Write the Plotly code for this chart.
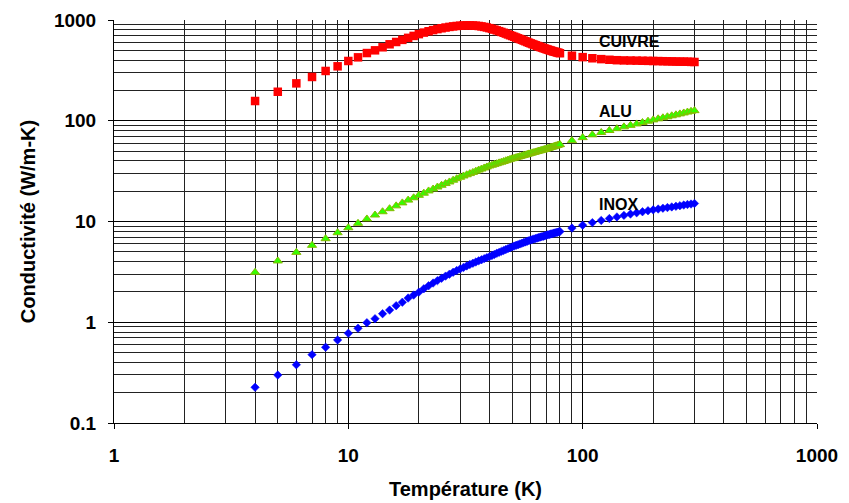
import math
import plotly.graph_objects as go

# Temperature (K)
temperature = [4, 5, 6, 7, 8, 9, 10, 11, 12, 13, 14, 15, 16, 17, 18, 19, 20,
               21, 22, 23, 24, 25, 26, 27, 28, 29, 30, 31, 32, 33, 34, 35, 36, 37, 38, 39, 40,
               41, 42, 43, 44, 45, 46, 47, 48, 49, 50, 51, 52, 53, 54, 55, 56, 57, 58, 59, 60,
               61, 62, 63, 64, 65, 66, 67, 68, 69, 70, 71, 72, 73, 74, 75, 76, 77, 78, 79, 80,
               90, 100, 110, 120, 130, 140, 150, 160, 170, 180, 190, 200,
               210, 220, 230, 240, 250, 260, 270, 280, 290, 300]

# Conductivity (W/m-K)
cuivre = [157, 194, 235, 272, 312, 347, 392, 426, 470, 500, 536, 574, 605, 635, 665, 695, 724,
          750, 773, 794, 812, 828, 842, 854, 864, 872, 878, 882, 884, 884, 882, 878, 872, 864, 854, 843, 830,
          817, 803, 789, 775, 761, 747, 733, 719, 706, 694, 682, 670, 658, 647, 636, 625, 615, 605, 595, 586,
          577, 569, 561, 553, 546, 539, 532, 526, 520, 514, 508, 503, 498, 493, 488, 484, 480, 476, 472, 468,
          442, 428, 417, 409, 403, 399, 397, 396, 395, 394, 393, 392,
          391, 390, 389, 388, 387, 386, 386, 385, 384, 383]

alu = [3.13, 4.06, 4.94, 5.80, 6.75, 7.74, 8.67, 9.59, 10.6, 11.6, 12.5, 13.4, 14.3, 15.3, 16.3, 17.2, 18.2,
       19.1, 20.1, 21.0, 22.0, 22.9, 23.8, 24.7, 25.7, 26.6, 27.5, 28.3, 29.1, 29.9, 30.7, 31.6, 32.4, 33.2, 34.0, 34.8, 35.6,
       36.2, 36.9, 37.5, 38.2, 38.8, 39.4, 40.1, 40.7, 41.4, 42.0, 42.5, 43.1, 43.6, 44.2, 44.7, 45.3, 45.8, 46.4, 46.9, 47.5,
       48.0, 48.5, 49.0, 49.5, 50.0, 50.5, 51.0, 51.5, 52.0, 52.5, 53.1, 53.6, 54.2, 54.7, 55.3, 55.8, 56.4, 56.9, 57.5, 58.0,
       63.5, 68, 72.5, 76.5, 80, 83.5, 87, 90, 93, 96, 99, 102,
       104.5, 107, 109.5, 112, 114.5, 117, 119.5, 122, 124, 126]

inox = [0.226, 0.299, 0.379, 0.477, 0.564, 0.667, 0.777, 0.871, 0.99, 1.085, 1.216, 1.32, 1.46, 1.58, 1.74, 1.86, 1.99,
        2.15, 2.30, 2.45, 2.59, 2.73, 2.87, 3.00, 3.13, 3.26, 3.38, 3.50, 3.62, 3.74, 3.85, 3.96, 4.07, 4.17, 4.28, 4.38, 4.48,
        4.60, 4.71, 4.83, 4.94, 5.05, 5.16, 5.27, 5.38, 5.49, 5.60, 5.70, 5.80, 5.89, 5.99, 6.08, 6.18, 6.27, 6.37, 6.46, 6.55,
        6.63, 6.71, 6.78, 6.86, 6.93, 7.01, 7.08, 7.15, 7.22, 7.30, 7.37, 7.43, 7.50, 7.56, 7.63, 7.69, 7.76, 7.82, 7.89, 7.95,
        8.6, 9.2, 9.75, 10.25, 10.7, 11.1, 11.5, 11.85, 12.2, 12.5, 12.8, 13.05,
        13.3, 13.55, 13.75, 13.95, 14.15, 14.35, 14.55, 14.75, 14.9, 15.1]

labels = ["CUIVRE", "ALU", "INOX"]
label_T = [115, 115, 115]
label_k = [612, 123, 14.6]

x_major = [1, 10, 100, 1000]
x_major_text = ["1", "10", "100", "1000"]
y_major = [0.1, 1, 10, 100, 1000]
y_major_text = ["0.1", "1", "10", "100", "1000"]

x_minor = [m * d for d in (1, 10, 100) for m in range(2, 10)]
y_minor = [m * d for d in (0.1, 1, 10, 100) for m in range(2, 10)]

FONT = "Liberation Sans"

fig = go.Figure()
fig.add_trace(go.Scatter(x=temperature, y=cuivre, mode="markers", name="CUIVRE",
                         marker=dict(symbol="square", size=8.5, color="#ff0000",
                                     line=dict(width=0))))
fig.add_trace(go.Scatter(x=temperature, y=alu, mode="markers", name="ALU",
                         marker=dict(symbol="triangle-up", size=8, color="#33ff00",
                                     line=dict(width=1, color="#88bb00"))))
fig.add_trace(go.Scatter(x=temperature, y=inox, mode="markers", name="INOX",
                         marker=dict(symbol="diamond", size=6.5, color="#0000ff",
                                     line=dict(width=0.5, color="#0000ff"))))

for t, k, s in zip(label_T, label_k, labels):
    fig.add_annotation(x=math.log10(t), y=math.log10(k), xref="x", yref="y", text=s,
                       showarrow=False, xanchor="left", yanchor="middle",
                       font=dict(family=FONT, size=16, color="black", weight="bold"))

axis_common = dict(type="log", showline=True, linecolor="black", linewidth=1,
                   ticks="outside", ticklen=5, tickcolor="black", tickwidth=1,
                   showgrid=True, gridcolor="black", gridwidth=1, zeroline=False,
                   automargin=False,
                   tickfont=dict(family=FONT, size=19, color="black", weight="bold"))

fig.update_xaxes(**axis_common, range=[0, 3], tickmode="array", tickvals=x_major,
                 ticktext=x_major_text, ticklabelstandoff=10,
                 minor=dict(tickmode="array", tickvals=x_minor, showgrid=True,
                            gridcolor="#222222", gridwidth=1, ticks=""),
                 title=dict(text="Température (K)", standoff=17,
                            font=dict(family=FONT, size=20, color="black", weight="bold")))
fig.update_yaxes(**axis_common, range=[-1, 3], tickmode="array", tickvals=y_major,
                 ticktext=y_major_text, ticklabelstandoff=8,
                 minor=dict(tickmode="array", tickvals=y_minor, showgrid=True,
                            gridcolor="#222222", gridwidth=1, ticks=""),
                 title=dict(text="Conductivité (W/m-K)", standoff=12,
                            font=dict(family=FONT, size=20, color="black", weight="bold")))

fig.update_layout(width=849, height=503, showlegend=False,
                  paper_bgcolor="white", plot_bgcolor="white",
                  margin=dict(l=114, r=32, t=20, b=80))

fig.write_html("out.html")
